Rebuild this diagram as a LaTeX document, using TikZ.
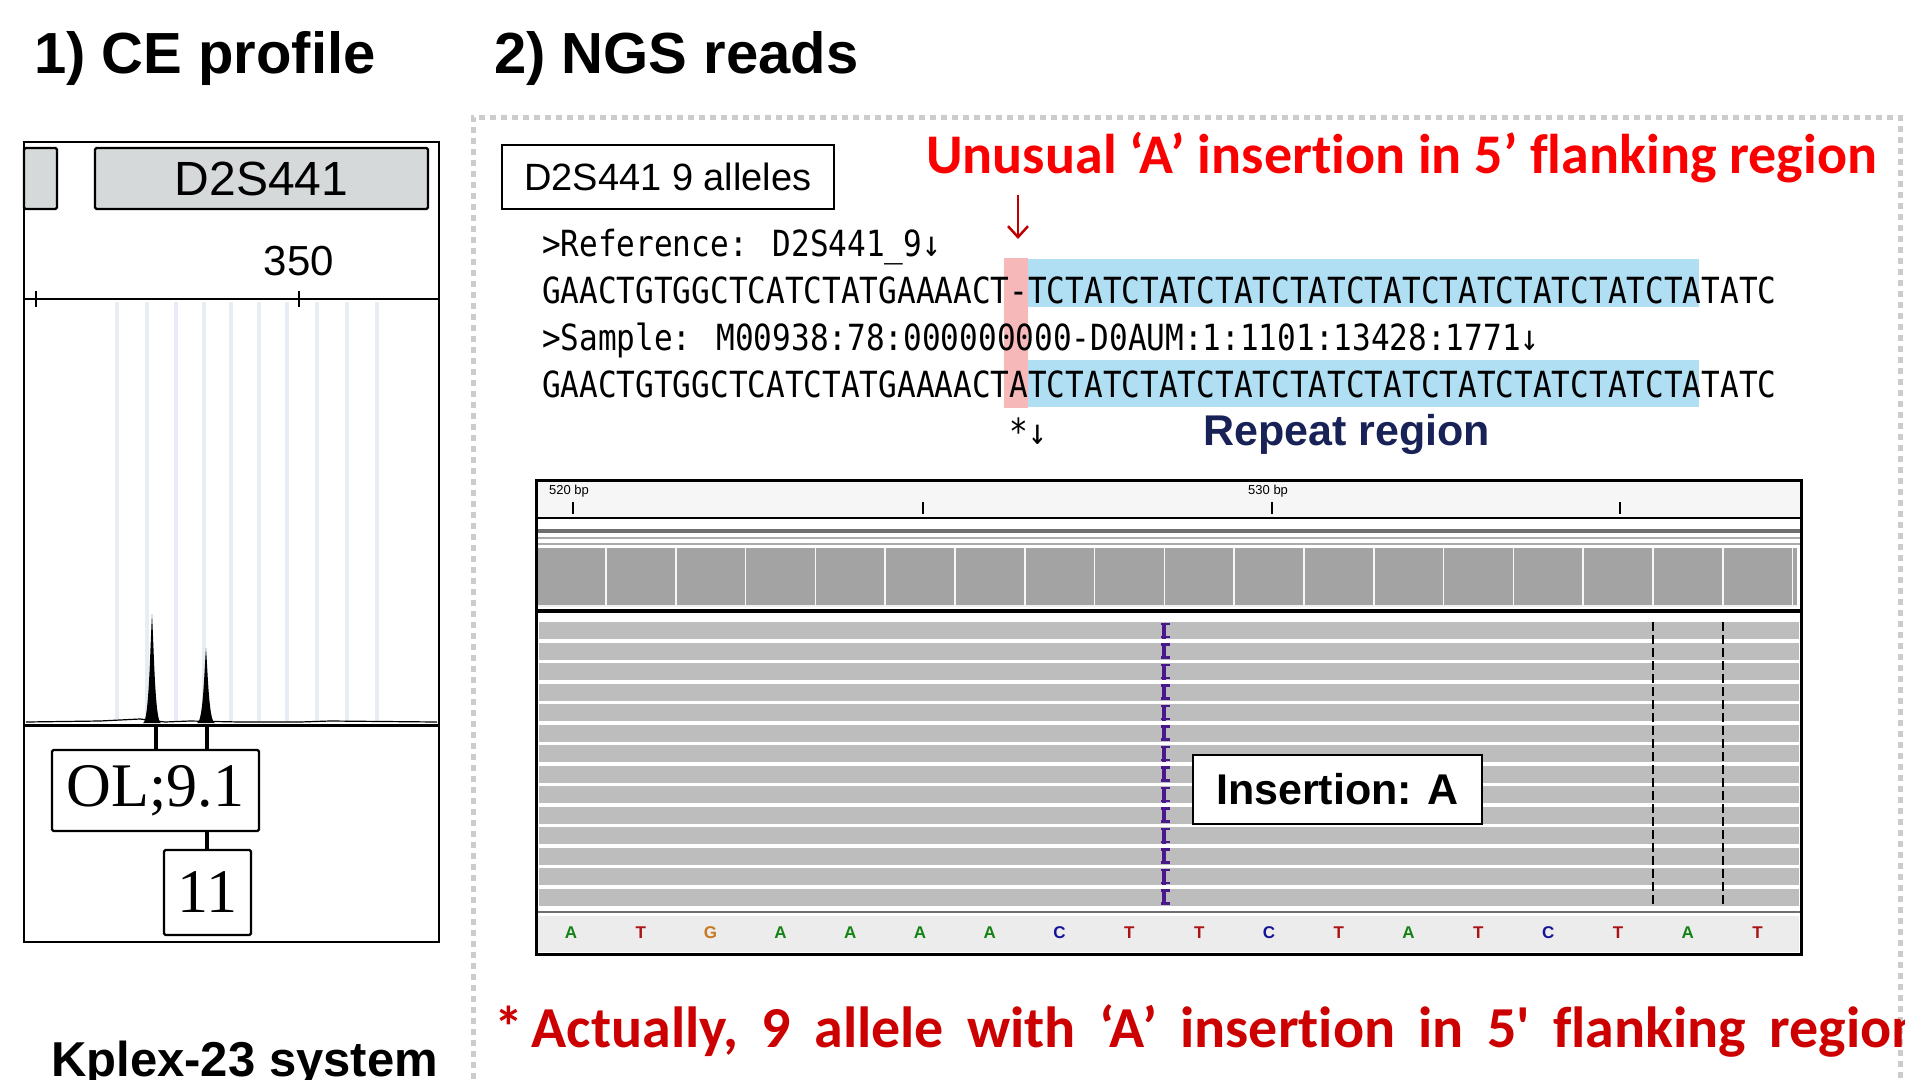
\documentclass[tikz,border=0pt]{standalone}
\usepackage{fontspec}
\setmainfont{Liberation Sans}
\newfontfamily\calfont[Ligatures={TeXOff,NoCommon}]{Carlito}
\newfontfamily\seqfont[FakeStretch=0.863]{DejaVu Sans Mono}
\newfontfamily\serifface{Liberation Serif}
\usetikzlibrary{arrows.meta}

\definecolor{pinkhl}{RGB}{246,184,184}
\definecolor{bluehl}{RGB}{176,222,242}
\definecolor{navy}{RGB}{24,34,86}
\definecolor{titlered}{RGB}{250,0,0}
\definecolor{notered}{RGB}{204,0,0}
\definecolor{arrowred}{RGB}{192,0,0}
\definecolor{framegray}{RGB}{204,204,204}
\definecolor{readgray}{RGB}{189,189,189}
\definecolor{covgray}{RGB}{163,163,163}
\definecolor{trackline}{RGB}{110,110,110}
\definecolor{thinline}{RGB}{170,170,170}
\definecolor{rulerbg}{RGB}{246,246,246}
\definecolor{seqbg}{RGB}{236,236,236}
\definecolor{baseA}{RGB}{20,130,20}
\definecolor{baseT}{RGB}{170,20,20}
\definecolor{baseG}{RGB}{200,120,30}
\definecolor{baseC}{RGB}{20,20,150}
\definecolor{insviolet}{RGB}{72,24,140}
\definecolor{gridblue}{RGB}{232,236,245}
\definecolor{labelgray}{RGB}{214,217,217}

\newcommand\fs[1]{\fontsize{#1}{#1}\selectfont}

\tikzset{
  txt/.style={anchor=base west, inner sep=0pt},
  cebox/.style={draw, line width=2.2pt, rounded corners=1.5pt, inner sep=0pt},
  seqtext/.style={txt, font=\seqfont\fs{36}},
  baselabel/.style={inner sep=0pt, font=\bfseries\fs{17}},
  stem/.style={line width=4.5pt},
}

\begin{document}
\begin{tikzpicture}[x=1pt,y=-1pt]
\useasboundingbox (0,0) rectangle (1905,1079);
\fill[white] (0,0) rectangle (1905,1079);

% section titles
\node[txt, font=\bfseries\fs{58}] (title1) at (34,73) {1) CE profile};
\node[txt, font=\bfseries\fs{58}] (title2) at (494,73) {2) NGS reads};

% dotted frame around the NGS part
\draw[framegray, line width=5pt, dash pattern=on 6pt off 5pt]
  (473,1079) -- (473,117) -- (1900,117) -- (1900,1079);

% ---------------- CE electropherogram ----------------
\draw[line width=2.2pt] (24,142) rectangle (439,942);
\foreach \x in {117,147,176,204,231,259,287,317,347,377}
  \draw[gridblue, line width=4.5pt] (\x,302) -- (\x,721);
\node[cebox, fill=labelgray, minimum width=33pt, minimum height=61pt] (prevlocus) at (40.5,178.5) {};
\node[cebox, fill=labelgray, minimum width=333pt, minimum height=61pt, font=\fs{48}] (locus) at (261.5,178.5) {D2S441};
\node[font=\fs{42}] (size350) at (299,261) {350};
\draw[line width=1.6pt] (24,299) -- (439,299);
\draw[line width=1.4pt] (36,291) -- (36,307);
\draw[line width=1.4pt] (299,291) -- (299,307);

% trace and peaks
\draw[line width=1.2pt] (26,722) -- (100,721) -- (140,719) -- (165,722) -- (190,721)
  -- (240,722) -- (300,722) -- (330,721) -- (437,722);
\fill (143,723) .. controls (149,722) and (150,650) .. (152,614)
  .. controls (154,650) and (155,722) .. (161,723) -- cycle;
\fill (197,723) .. controls (203,722) and (204,676) .. (206,648)
  .. controls (208,676) and (209,722) .. (215,723) -- cycle;
\draw[line width=3pt] (24,725) -- (439,725);
\coordinate (pk1) at (156,725);
\coordinate (pk2) at (207,725);

% allele call labels
\node[cebox, fill=white, minimum width=207pt, minimum height=81pt, font=\serifface\fs{62}] (olcall) at (155.5,790.5) {OL;9.1};
\node[cebox, fill=white, minimum width=87pt, minimum height=85pt, font=\serifface\fs{62}] (call11) at (207.5,892.5) {11};
\draw[stem] (pk1) -- (pk1 |- olcall.north);
\draw[stem] (pk2) -- (pk2 |- olcall.north);
\draw[stem] (pk2 |- olcall.south) -- (call11.north -| pk2);

\node[txt, font=\bfseries\fs{49}] (kit) at (51,1076) {Kplex-23 system};

% ---------------- NGS reads ----------------
\node[draw, line width=2.2pt, minimum width=332pt, minimum height=64pt, font=\fs{38}] (allelebox) at (668,177) {D2S441 9 alleles};
\node[txt, font=\calfont\bfseries\fs{56}, text=titlered] (unusual) at (926,173) {Unusual ‘A’ insertion in 5’ flanking region};

% sequence highlights
\fill[pinkhl] (1004,258) rectangle (1028,408);
\fill[bluehl] (1028,259) rectangle (1699,307);
\fill[bluehl] (1028,360) rectangle (1699,407);

\coordinate (arrtop) at (1018,195);
\coordinate (arrtip) at (1018,239);
\draw[arrowred, line width=2.5pt, -{Straight Barb[length=11pt,width=20pt,line width=2.5pt]}] (arrtop) -- (arrtip);

\node[seqtext] (refhdr) at (541.8,256) {>Reference: D2S441\_9↓};
\node[seqtext] (refseq) at (541.8,303) {GAACTGTGGCTCATCTATGAAAACT-TCTATCTATCTATCTATCTATCTATCTATCTATCTATATC};
\node[seqtext] (smphdr) at (541.8,350) {>Sample: M00938:78:000000000-D0AUM:1:1101:13428:1771↓};
\node[seqtext] (smpseq) at (541.8,397) {GAACTGTGGCTCATCTATGAAAACTATCTATCTATCTATCTATCTATCTATCTATCTATCTATATC};
\node[seqtext] (insmark) at (1009.3,444) {*↓};
\node[txt, font=\bfseries\fs{43}, text=navy] (repeat) at (1203,445) {Repeat region};

% IGV-style alignment view
\fill[rulerbg] (537.5,481.5) rectangle (1799.5,517);
\node[txt, font=\fs{13}] (bp520) at (549,494) {520 bp};
\node[txt, font=\fs{13}] (bp530) at (1248,494) {530 bp};
\foreach \x in {573,923,1272,1620}
  \draw[line width=1.6pt] (\x,502) -- (\x,514);
\draw[line width=2.5pt] (536,518) -- (1801,518);
\draw[trackline, line width=4pt] (537,531) -- (1800,531);
\draw[thinline, line width=1.5pt] (537,538) -- (1800,538);
\draw[thinline, line width=1.5pt] (537,544) -- (1800,544);
% coverage track
\fill[covgray] (538,548) rectangle (1797,605);
\draw[white!90!gray, line width=1.5pt] (538,606) -- (1797,606);
\foreach \k in {0,...,17}
  \draw[white!94!gray, line width=1.6pt] ({606+69.8*\k},548) -- ++(0,57);
\draw[line width=3.5pt] (536,611) -- (1801,611);
% reads with the inserted base marked
\foreach \i in {0,...,13} {
  \fill[readgray] (539,{622+20.5*\i}) rectangle (1799,{639+20.5*\i});
  \draw[insviolet, line width=3.5pt] (1164,{622.5+20.5*\i}) -- ++(0,16);
  \draw[insviolet, line width=2.5pt] (1161,{623.8+20.5*\i}) -- ++(9,0);
  \draw[insviolet, line width=2.5pt] (1161,{637.2+20.5*\i}) -- ++(9,0);
}
\foreach \x in {1653,1723}
  \draw[line width=2pt, dash pattern=on 9pt off 4pt] (\x,622) -- (\x,906);
% reference sequence track
\draw[trackline, line width=2pt] (537,912) -- (1800,912);
\fill[seqbg] (538,916) rectangle (1799,952);
\foreach \b [count=\k from 0] in {A,T,G,A,A,A,A,C,T,T,C,T,A,T,C,T,A,T}
  \node[baselabel, text=base\b] (base\k) at ({571+69.8*\k},933) {\b};
\draw[line width=3pt] (536,480) rectangle (1801,954);

\node[draw, line width=2.2pt, fill=white, minimum width=289pt, minimum height=69pt, font=\bfseries\fs{43}] (insbox) at (1337.5,789.5) {Insertion: A};

% footnote
\node[txt, font=\calfont\bfseries\fs{58}, text=notered] (note) at (494,1047)
  {*\hspace{0.15em}{\spaceskip=0.40em\relax Actually, 9 allele with ‘A’ insertion in 5' flanking region}};
\end{tikzpicture}
\end{document}
